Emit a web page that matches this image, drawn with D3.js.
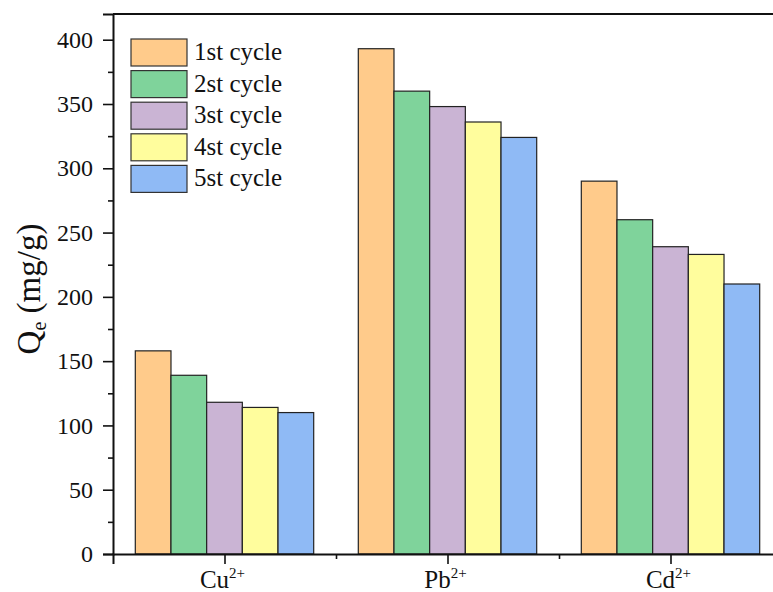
<!DOCTYPE html>
<html>
<head>
<meta charset="utf-8">
<script src="https://cdn.jsdelivr.net/npm/d3@7"></script>
<style>
  body { margin: 0; background: #fff; }
  text { font-family: "Liberation Serif", "Times New Roman", serif; fill: #111; }
</style>
</head>
<body>
<div id="plot"></div>
<script>
const ions = ["Cu", "Pb", "Cd"];
const cycles = ["1st cycle", "2st cycle", "3st cycle", "4st cycle", "5st cycle"];
const cycle1 = [158, 393, 290];
const cycle2 = [139, 360, 260];
const cycle3 = [118, 348, 239];
const cycle4 = [114, 336, 233];
const cycle5 = [110, 324, 210];
const yTicks = [0, 50, 100, 150, 200, 250, 300, 350, 400];

const series = [cycle1, cycle2, cycle3, cycle4, cycle5];
const colors = ["#FFCB8B", "#7FD39B", "#CAB4D4", "#FFFD9D", "#8FBAF5"];

const width = 773, height = 592;
const plotLeft = 113, plotTop = 14, plotBottom = 554, plotRight = 782;

const svg = d3.select("#plot").append("svg")
    .attr("width", width)
    .attr("height", height);

const x = d3.scaleLinear().domain([0.5, 3.5]).range([plotLeft, plotRight]);
const y = d3.scaleLinear().domain([0, 420]).range([plotBottom, plotTop]);

const groupWidth = 0.8;
const barW = groupWidth / cycles.length;

// bars
series.forEach((vals, si) => {
    svg.append("g").selectAll("rect")
        .data(vals)
        .enter()
        .append("rect")
        .attr("x", (d, i) => x(i + 1 - groupWidth / 2 + si * barW))
        .attr("y", d => y(d))
        .attr("width", x(1 + barW) - x(1))
        .attr("height", d => y(0) - y(d))
        .attr("fill", colors[si])
        .attr("stroke", "#222")
        .attr("stroke-width", 1.2);
});

// y axis
const yAxis = svg.append("g")
    .attr("transform", `translate(${plotLeft},0)`)
    .call(d3.axisLeft(y).tickValues(yTicks).tickSize(10).tickPadding(10).tickFormat(d3.format("d")))
    .attr("font-family", "Liberation Serif")
    .attr("font-size", 24);
yAxis.selectAll("text").attr("fill", "#111");
svg.append("g")
    .attr("transform", `translate(${plotLeft},0)`)
    .call(d3.axisLeft(y).tickValues(d3.range(25, 420, 50)).tickSize(5).tickFormat(""))
    .select(".domain").remove();

// x axis
svg.append("g")
    .attr("transform", `translate(0,${plotBottom})`)
    .call(d3.axisBottom(x).tickValues([1, 2, 3]).tickSize(10).tickFormat(""));
svg.append("g")
    .attr("transform", `translate(0,${plotBottom})`)
    .call(d3.axisBottom(x).tickValues([1.5, 2.5]).tickSize(5).tickFormat(""))
    .select(".domain").remove();

svg.selectAll(".domain").attr("stroke-width", 2).attr("stroke", "#111");
svg.selectAll(".tick line").attr("stroke-width", 1.6).attr("stroke", "#111");

// top frame
svg.append("line")
    .attr("x1", plotLeft).attr("x2", plotRight)
    .attr("y1", plotTop).attr("y2", plotTop)
    .attr("stroke", "#111").attr("stroke-width", 2);

// category labels
ions.forEach((ion, i) => {
    const t = svg.append("text")
        .attr("x", x(i + 1) - 2)
        .attr("y", 588)
        .attr("text-anchor", "middle")
        .style("font-size", "25px");
    t.append("tspan").text(ion);
    t.append("tspan").text("2+").style("font-size", "15px").attr("dy", -10);
});

// y label
const yl = svg.append("text")
    .attr("transform", "translate(40,289) rotate(-90)")
    .attr("text-anchor", "middle")
    .style("font-size", "33px");
yl.append("tspan").text("Q");
yl.append("tspan").text("e").style("font-size", "20px").attr("dy", 6);
yl.append("tspan").text(" (mg/g)").attr("dy", -6);

// legend
const legend = svg.append("g").attr("transform", "translate(131,39)");
cycles.forEach((c, i) => {
    const g = legend.append("g").attr("transform", `translate(0,${i * 31.6})`);
    g.append("rect")
        .attr("width", 56).attr("height", 27)
        .attr("fill", colors[i])
        .attr("stroke", "#333").attr("stroke-width", 1.2);
    g.append("text")
        .attr("x", 63).attr("y", 21)
        .style("font-size", "25px")
        .text(c);
});
</script>
</body>
</html>
